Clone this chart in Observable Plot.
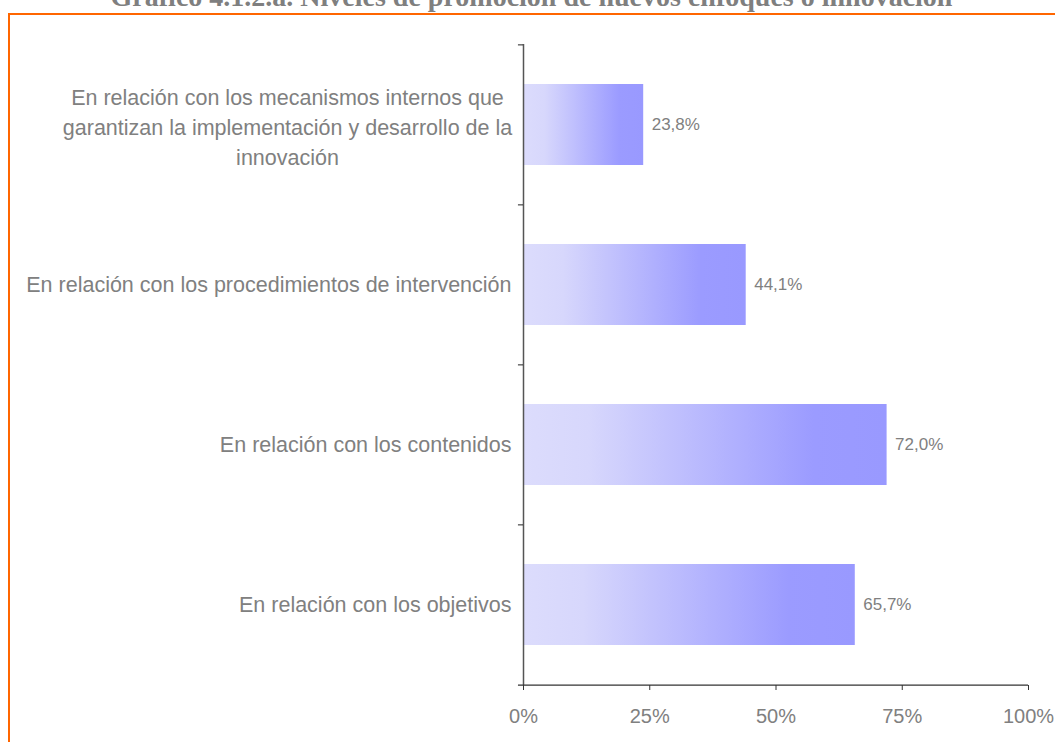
<!DOCTYPE html>
<html>
<head>
<meta charset="utf-8">
<script src="https://cdn.jsdelivr.net/npm/d3@7"></script>
<script src="https://cdn.jsdelivr.net/npm/@observablehq/plot@0.6"></script>
<style>
  html, body { margin: 0; padding: 0; background: #fff; overflow: hidden; }
  #frame { position: absolute; left: 8px; top: 13px; width: 1100px; height: 800px;
           border-left: 2px solid #ff6600; border-top: 2px solid #ff6600; }
  #title { position: absolute; left: 0; width: 1063px; top: -17px; text-align: center;
           font-family: "Liberation Serif", "Times New Roman", serif; font-weight: bold;
           font-size: 28px; line-height: 28px; color: #7f7f7f; white-space: nowrap; }
  #chart { position: absolute; left: 0; top: 0; }
</style>
</head>
<body>
<div id="frame"></div>
<div id="title">Gráfico 4.1.2.a. Niveles de promoción de nuevos enfoques o innovación</div>
<div id="chart"></div>
<script>
const categories = [
  "En relación con los mecanismos internos que\ngarantizan la implementación y desarrollo de la\ninnovación",
  "En relación con los procedimientos de intervención",
  "En relación con los contenidos",
  "En relación con los objetivos"
];
const values = [23.8, 44.1, 72.0, 65.7];
const xTicks = [0, 25, 50, 75, 100];

const data = categories.map((c, i) => ({cat: c, value: values[i]}));

const W = 1055, H = 742, MT = 44, MB = 57, ML = 523, MR = 27;
const step = (H - MT - MB) / categories.length;
const grey = "#808080";

const multi = data.filter(d => d.cat.includes("\n"));
const single = data.filter(d => !d.cat.includes("\n"));

const plot = Plot.plot({
  width: W, height: H,
  marginTop: MT, marginBottom: MB, marginLeft: ML, marginRight: MR,
  style: {fontFamily: "'Liberation Sans', Arial, sans-serif", background: "transparent"},
  x: {domain: [0, 100]},
  y: {domain: categories, paddingInner: 0.495, paddingOuter: 0.2475, axis: null},
  marks: [
    Plot.barX(data, {x: "value", y: "cat", fill: "url(#barGrad)"}),
    Plot.text(data, {
      x: "value", y: "cat",
      text: d => d.value.toFixed(1).replace(".", ",") + "%",
      textAnchor: "start", dx: 8, fill: grey, fontSize: 17
    }),
    Plot.text(multi, {
      y: "cat", text: "cat", frameAnchor: "left", textAnchor: "middle",
      dx: -236, lineHeight: 1.4, fill: grey, fontSize: 21.5
    }),
    Plot.text(single, {
      y: "cat", text: "cat", frameAnchor: "left", textAnchor: "end",
      dx: -12, fill: grey, fontSize: 21.5
    }),
    // y axis line
    Plot.ruleX([0], {stroke: "#555", strokeWidth: 1.5}),
    // category separator ticks (top of each band)
    Plot.ruleY(categories, {y: d => d, x1: -1, x2: 0, dy: -step / 2, stroke: "#222"}),
    // x axis baseline (bottom of last band)
    Plot.ruleY([categories[categories.length - 1]], {y: d => d, x1: -1, x2: 100, dy: step / 2, stroke: "#333", strokeWidth: 1.3}),
    Plot.axisX({
      ticks: xTicks, tickFormat: d => d + "%", tickSize: 5, tickPadding: 18,
      stroke: "#333", fill: grey, fontSize: 20, label: null
    })
  ]
});

const svg = d3.select(plot);
const defs = svg.insert("defs", ":first-child");
const g = defs.append("linearGradient").attr("id", "barGrad")
  .attr("x1", "0").attr("y1", "0").attr("x2", "1").attr("y2", "0");
g.append("stop").attr("offset", "0").attr("stop-color", "#dcdcfc");
g.append("stop").attr("offset", "0.18").attr("stop-color", "#d7d7fc");
g.append("stop").attr("offset", "0.8").attr("stop-color", "#9b9bff");
g.append("stop").attr("offset", "1").attr("stop-color", "#9999ff");

document.getElementById("chart").appendChild(plot);
</script>
</body>
</html>
